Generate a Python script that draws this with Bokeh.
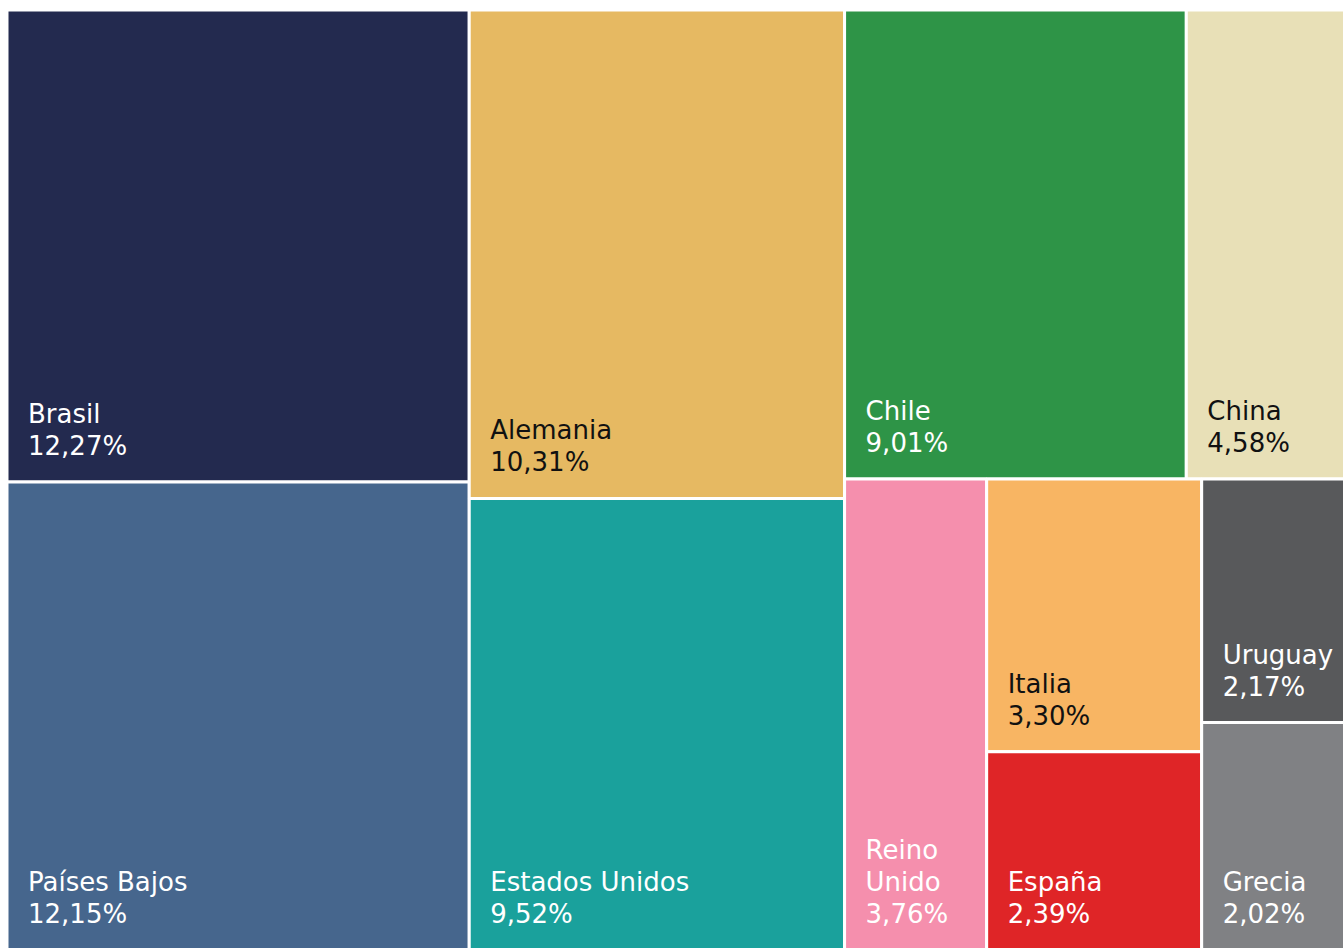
from bokeh.plotting import figure
from bokeh.models import Range1d, ColumnDataSource
from bokeh.core.properties import value
from bokeh.embed import file_html
from bokeh.resources import INLINE

# ---- data -------------------------------------------------------------
countries = ["Brasil", "Países Bajos", "Alemania", "Estados Unidos", "Chile", "China",
             "Reino Unido", "Italia", "España", "Uruguay", "Grecia"]
shares = [12.27, 12.15, 10.31, 9.52, 9.01, 4.58, 3.76, 3.30, 2.39, 2.17, 2.02]
colors = ["#232A4F", "#46668D", "#E6B962", "#1AA19C", "#2E9447", "#E8E0B7",
          "#F58FAD", "#F8B563", "#DF2527", "#58595B", "#808184"]
label_colors = ["#FFFFFF", "#FFFFFF", "#111111", "#FFFFFF", "#FFFFFF", "#111111",
                "#FFFFFF", "#111111", "#FFFFFF", "#FFFFFF", "#FFFFFF"]

# nesting of the tiles: "h" = side by side, "v" = stacked (indices into lists above)
structure = ("h", [("v", [0, 1]), ("v", [2, 3]),
                   ("v", [("h", [4, 5]), ("h", [6, ("v", [7, 8]), ("v", [9, 10])])])])

# ---- layout -----------------------------------------------------------
W, H = 1343, 949            # figure size
OX, OY = 6.5, 9.5           # treemap origin inside the figure
LW, LH = 1353, 939.5        # treemap extent (the reference crops its right edge)
FONT = "DejaVu Sans"
FS = 26
LINE = 32
PAD_L, PAD_B = 21, 36


def total(node):
    if isinstance(node, int):
        return shares[node]
    return sum(total(c) for c in node[1])


def layout(node, x0, y0, x1, y1, out):
    if isinstance(node, int):
        out[node] = (x0, y0, x1, y1)
        return
    d, kids = node
    t = total(node)
    pos = x0 if d == "h" else y0
    for k in kids:
        f = total(k) / t
        if d == "h":
            nx = pos + (x1 - x0) * f
            layout(k, pos, y0, nx, y1, out)
            pos = nx
        else:
            ny = pos + (y1 - y0) * f
            layout(k, x0, pos, x1, ny, out)
            pos = ny


rects = {}
layout(structure, OX, OY, OX + LW, OY + LH, rects)

n = len(countries)
src = ColumnDataSource(dict(left=[rects[i][0] for i in range(n)],
                            top=[rects[i][1] for i in range(n)],
                            right=[rects[i][2] for i in range(n)],
                            bottom=[rects[i][3] for i in range(n)],
                            color=colors, name=countries, share=shares))


def wrap(name, avail):
    est = len(name) * 0.6 * FS
    if est <= avail or " " not in name:
        return [name]
    return name.split(" ")


tx, ty, tt, tc = [], [], [], []
for i, name in enumerate(countries):
    x0, y0, x1, y1 = rects[i]
    pct = f"{shares[i]:.2f}".replace(".", ",") + "%"
    lines = wrap(name, (x1 - x0) - 2 * PAD_L) + [pct]
    for j, line in enumerate(reversed(lines)):
        tx.append(x0 + PAD_L)
        ty.append(y1 - PAD_B - j * LINE)
        tt.append(line)
        tc.append(label_colors[i])

tsrc = ColumnDataSource(dict(x=tx, y=ty, text=tt, color=tc))

p = figure(width=W, height=H, x_range=Range1d(0, W), y_range=Range1d(H, 0),
           output_backend="svg", toolbar_location=None, min_border=0)
p.axis.visible = False
p.grid.visible = False
p.outline_line_color = None
p.background_fill_color = "white"
p.border_fill_color = "white"

p.quad(left="left", right="right", top="top", bottom="bottom", source=src,
       fill_color="color", line_color="white", line_width=3)
p.text(x="x", y="y", text="text", source=tsrc, text_color="color",
       text_font=value(FONT), text_font_size=f"{FS}px",
       text_baseline="alphabetic", text_align="left")

open("out.html", "w").write(file_html(p, INLINE))
